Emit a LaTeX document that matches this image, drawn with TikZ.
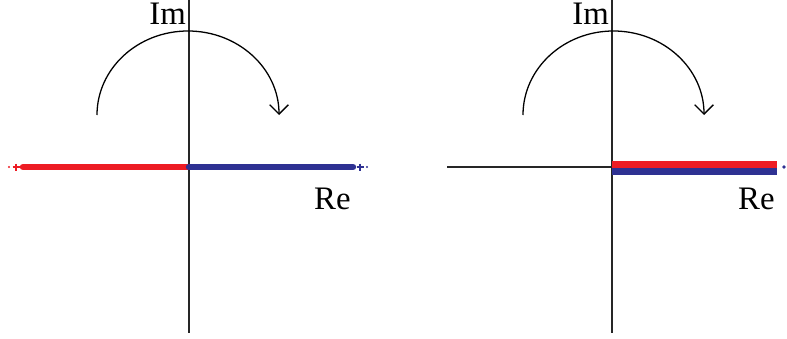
\documentclass[tikz,border=0pt]{standalone}
\usepackage{fontspec}
\setmainfont{Liberation Serif}
\usepackage{xcolor}
\usetikzlibrary{arrows.meta,positioning}
\definecolor{negRed}{RGB}{237,28,36}
\definecolor{posBlue}{RGB}{46,49,146}

\begin{document}
\begin{tikzpicture}[x=0.03cm, y=-0.03cm,
  axis/.style={line width=1.4pt, black!85},
  half/.style={line width=5.5pt, #1},
  turn/.style={line width=1.1pt, -{Straight Barb[length=8pt, width=16pt, line width=1.1pt]}},
  lbl/.style={font=\fontsize{28}{30}\selectfont, inner sep=0pt},
  tick/.style={line width=1pt, #1}
]
  \useasboundingbox (0,0) rectangle (787,339);

  % Left plane
  \coordinate (oL) at (189,167);
  \coordinate (topL) at (189,0);
  \coordinate (botL) at (189,333);
  \coordinate (westL) at (23,167);
  \coordinate (eastL) at (353,167);
  \draw[axis] (topL) -- (botL);
  \draw[half=negRed, line cap=round] (westL) -- (oL);
  \draw[half=posBlue, line cap=round] (oL) -- (eastL);
  \draw[tick=negRed] (16,163.5) -- (16,170.5) (12.5,167) -- (19.5,167);
  \fill[negRed] (9,167) circle[radius=1.1];
  \draw[tick=posBlue] (360,163.5) -- (360,170.5) (356.5,167) -- (363.5,167);
  \fill[posBlue] (367,167) circle[radius=1.1];
  \draw[turn] (97,115) arc[start angle=180, end angle=360, x radius=91, y radius=84];
  \node[lbl, anchor=base east] (imL) at (186,25) {Im};
  \node[lbl, anchor=base west] (reL) at (314,209) {Re};

  % Right plane
  \coordinate (oR) at (612,167);
  \coordinate (topR) at (612,0);
  \coordinate (botR) at (612,333);
  \coordinate (westR) at (447,167);
  \draw[axis] (topR) -- (botR);
  \draw[axis] (westR) -- (oR);
  \draw[half=negRed] (612,164.5) -- (777,164.5);
  \draw[half=posBlue] (612,171.5) -- (777,171.5);
  \fill[posBlue] (784,167) circle[radius=1.8];
  \draw[turn] (523,115) arc[start angle=180, end angle=360, x radius=90.5, y radius=84];
  \node[lbl, anchor=base east] (imR) at (609,25) {Im};
  \node[lbl, anchor=base west] (reR) at (738,209) {Re};
\end{tikzpicture}
\end{document}
